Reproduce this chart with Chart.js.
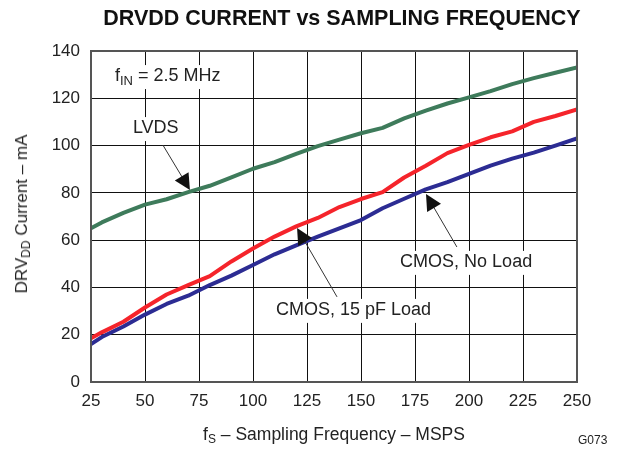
<!DOCTYPE html>
<html>
<head>
<meta charset="utf-8">
<script src="https://cdn.jsdelivr.net/npm/chart.js@4"></script>
<style>
    body { margin: 0; background: #fff; }
    #wrap { position: relative; width: 618px; height: 449px; font-family: 'Liberation Sans', Arial, sans-serif; color: #222; }
    #chart { position: absolute; left: 0; top: 0; }
    .title { position: absolute; left: 0; width: 684px; top: 6px; text-align: center; font-weight: bold; font-size: 21.5px; color: #111; }
    .xtitle { position: absolute; left: 91px; width: 486px; top: 424px; text-align: center; font-size: 17.5px; color: #222; }
    .ytitle { position: absolute; left: 22px; top: 214px; font-size: 17px; font-weight: normal; color: #222; white-space: nowrap; transform: translate(-50%, -50%) rotate(-90deg); }
    .code { position: absolute; left: 578px; top: 433px; font-size: 12px; color: #222; }
    sub { font-size: 12px; vertical-align: -3px; line-height: 0; }
</style>
</head>
<body>
<div id="wrap">
    <canvas id="chart" width="618" height="449"></canvas>
    <div class="title">DRVDD CURRENT vs SAMPLING FREQUENCY</div>
    <div class="ytitle">DRV<sub>DD</sub> Current – mA</div>
    <div class="xtitle">f<sub>S</sub> – Sampling Frequency – MSPS</div>
    <div class="code">G073</div>
</div>
<script>
// 샘플링 주파수 (MSPS)
const freq = [25, 30, 40, 50, 60, 70, 80, 90, 100, 110, 120, 130, 140, 150, 160, 170, 180, 190, 200, 210, 220, 230, 240, 250];

// 전류 (mA)
const lvdsCurrent = [65, 67.5, 71.5, 75, 77.3, 80.3, 83, 86.5, 90.2, 93, 96.5, 99.8, 102.5, 105.2, 107.5, 111.5, 114.8, 117.8, 120.4, 123, 126, 128.5, 130.8, 133];
const cmos15pfCurrent = [18.5, 21, 25.5, 31.5, 37, 41, 44.8, 51, 56.5, 61.5, 65.8, 69.4, 74, 77.4, 80.3, 86.5, 91.5, 96.8, 100.3, 103.5, 106, 110, 112.5, 115.3];
const cmosNoLoadCurrent = [16, 19, 23.5, 28.5, 33, 36.5, 41, 45, 49.5, 54, 57.8, 61.5, 65, 68.5, 73.5, 77.5, 81.5, 84.5, 88, 91.5, 94.5, 97, 100, 103];

// 축 눈금
const xTicks = [25, 50, 75, 100, 125, 150, 175, 200, 225, 250];
const yTicks = [0, 20, 40, 60, 80, 100, 120, 140];

// 주석 (데이터 좌표)
const notes = [
    { parts: [['f'], ['IN', true], [' = 2.5 MHz']], x: 36.1, y: 129.4 },
    { parts: [['LVDS']], x: 44.4, y: 107.4, from: [58.3, 100.2], to: [70.8, 81.2] },
    { parts: [['CMOS, 15 pF Load']], x: 110.6, y: 30.5, from: [138.9, 36], to: [120.4, 65.1] },
    { parts: [['CMOS, No Load']], x: 168.1, y: 50.8, from: [194.4, 57.1], to: [180.1, 79.5] }
];

const FONT = "'Liberation Sans', Arial, sans-serif";

function series(values) {
    return freq.map((f, i) => ({ x: f, y: values[i] }));
}

// 화살표 그리기
function drawArrow(ctx, x1, y1, x2, y2) {
    const ang = Math.atan2(y2 - y1, x2 - x1);
    const len = 16, half = 8;
    ctx.strokeStyle = '#333';
    ctx.lineWidth = 1;
    ctx.beginPath();
    ctx.moveTo(x1, y1);
    ctx.lineTo(x2 - Math.cos(ang) * len * 0.6, y2 - Math.sin(ang) * len * 0.6);
    ctx.stroke();
    ctx.fillStyle = '#111';
    ctx.beginPath();
    ctx.moveTo(x2, y2);
    ctx.lineTo(x2 - Math.cos(ang) * len - Math.sin(ang) * half, y2 - Math.sin(ang) * len + Math.cos(ang) * half);
    ctx.lineTo(x2 - Math.cos(ang) * len + Math.sin(ang) * half, y2 - Math.sin(ang) * len - Math.cos(ang) * half);
    ctx.closePath();
    ctx.fill();
}

// 아래첨자 포함 텍스트
function drawParts(ctx, parts, x, y) {
    let w = 0;
    parts.forEach(p => {
        ctx.font = (p[1] ? '13px ' : '18px ') + FONT;
        w += ctx.measureText(p[0]).width;
    });
    ctx.fillStyle = '#fff';
    ctx.fillRect(x - 3, y - 11, w + 6, 24);
    ctx.fillStyle = '#222';
    ctx.textBaseline = 'middle';
    ctx.textAlign = 'left';
    let cx = x;
    parts.forEach(p => {
        ctx.font = (p[1] ? '13px ' : '18px ') + FONT;
        ctx.fillText(p[0], cx, p[1] ? y + 5 : y);
        cx += ctx.measureText(p[0]).width;
    });
}

const notesPlugin = {
    id: 'notes',
    afterDatasetsDraw(chart) {
        const ctx = chart.ctx;
        const xs = chart.scales.x, ys = chart.scales.y;
        const a = chart.chartArea;
        ctx.save();
        // 플롯 테두리
        ctx.strokeStyle = '#555';
        ctx.lineWidth = 2;
        ctx.strokeRect(a.left, a.top, a.right - a.left, a.bottom - a.top);
        notes.forEach(n => {
            drawParts(ctx, n.parts, xs.getPixelForValue(n.x), ys.getPixelForValue(n.y));
            if (n.from) {
                drawArrow(ctx, xs.getPixelForValue(n.from[0]), ys.getPixelForValue(n.from[1]),
                    xs.getPixelForValue(n.to[0]), ys.getPixelForValue(n.to[1]));
            }
        });
        ctx.restore();
    }
};

function lineSet(label, values, color) {
    return {
        label: label,
        data: series(values),
        borderColor: color,
        borderWidth: 4,
        pointRadius: 0,
        tension: 0,
        borderJoinStyle: 'round',
        borderCapStyle: 'butt'
    };
}

new Chart(document.getElementById('chart'), {
    type: 'line',
    data: {
        datasets: [
            lineSet('LVDS', lvdsCurrent, '#3e7b5b'),
            lineSet('CMOS, 15 pF Load', cmos15pfCurrent, '#f5242b'),
            lineSet('CMOS, No Load', cmosNoLoadCurrent, '#2c2c93')
        ]
    },
    options: {
        responsive: false,
        animation: false,
        devicePixelRatio: 1,
        layout: { padding: { top: 51, right: 41, bottom: 0, left: 0 } },
        plugins: { legend: { display: false }, tooltip: { enabled: false } },
        scales: {
            x: {
                type: 'linear',
                min: 25,
                max: 250,
                afterBuildTicks: s => { s.ticks = xTicks.map(v => ({ value: v })); },
                afterFit: s => { s.height = 67; s.paddingLeft = 0; s.paddingRight = 0; },
                grid: { color: '#111', lineWidth: 1, drawTicks: false },
                border: { display: false },
                ticks: { padding: 9, color: '#222', font: { family: FONT, size: 17 } }
            },
            y: {
                min: 0,
                max: 140,
                afterBuildTicks: s => { s.ticks = yTicks.map(v => ({ value: v })); },
                afterFit: s => { s.width = 91; s.paddingTop = 0; s.paddingBottom = 0; },
                grid: { color: '#111', lineWidth: 1, drawTicks: false },
                border: { display: false },
                ticks: { padding: 11, color: '#222', font: { family: FONT, size: 17 } }
            }
        }
    },
    plugins: [notesPlugin]
});
</script>
</body>
</html>
